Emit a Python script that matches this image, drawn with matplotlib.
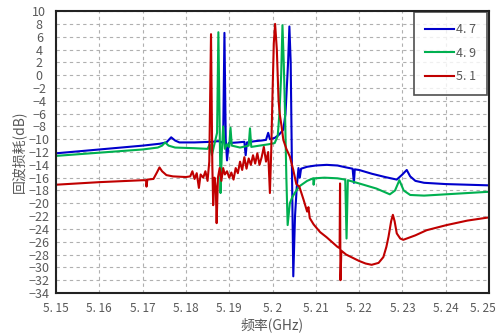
import matplotlib
matplotlib.use("Agg")
import matplotlib.pyplot as plt
import matplotlib.transforms as mtransforms
import numpy as np

plt.rcParams['font.family'] = ['Noto Sans CJK SC', 'DejaVu Sans']

# ===== 数据 (GHz, dB) =====
freq_47 = [5.1500, 5.1600, 5.1700, 5.1740, 5.1755, 5.1766, 5.1775, 5.1785, 5.1820,
           5.1860, 5.1875, 5.1882, 5.1886, 5.1889, 5.1892, 5.1895, 5.1899, 5.1920,
           5.1935, 5.1938, 5.1941, 5.1960, 5.1975, 5.1985, 5.1990, 5.1994, 5.2005,
           5.2015, 5.2025, 5.2030, 5.2036, 5.2039, 5.2042, 5.2045, 5.2048, 5.2052,
           5.2056, 5.2060, 5.2063, 5.2066, 5.2080, 5.2100, 5.2125, 5.2150, 5.2170,
           5.2185, 5.2188, 5.2190, 5.2200, 5.2230, 5.2260, 5.2287, 5.2300, 5.2310,
           5.2318, 5.2330, 5.2350, 5.2400, 5.2450, 5.2500]
rl_47 = [-12.2, -11.6, -11.0, -10.7, -10.5, -9.7, -10.2, -10.5, -10.5,
         -10.4, -10.3, -10.5, -10.3, 6.6, -10.0, -13.3, -10.6, -10.5,
         -10.4, -12.5, -10.5, -10.3, -10.2, -10.1, -9.0, -10.0, -9.8,
         -9.3, -8.5, -6.0, 2.0, 7.6, 2.0, -15.0, -31.4, -22.0,
         -17.5, -14.5, -16.0, -14.6, -14.3, -14.1, -14.0, -14.1, -14.4,
         -14.6, -16.8, -14.7, -14.8, -15.4, -15.9, -16.3, -15.5, -14.8,
         -15.8, -16.5, -16.8, -17.0, -17.1, -17.2]

freq_49 = [5.1500, 5.1600, 5.1700, 5.1735, 5.1745, 5.1752, 5.1760, 5.1775, 5.1820,
           5.1850, 5.1855, 5.1860, 5.1865, 5.1872, 5.1875, 5.1878, 5.1880, 5.1883,
           5.1886, 5.1890, 5.1895, 5.1900, 5.1903, 5.1906, 5.1925, 5.1945, 5.1948,
           5.1951, 5.1970, 5.1990, 5.2005, 5.2012, 5.2016, 5.2020, 5.2023, 5.2026,
           5.2029, 5.2032, 5.2035, 5.2040, 5.2046, 5.2055, 5.2063, 5.2080, 5.2094,
           5.2095, 5.2097, 5.2120, 5.2150, 5.2168, 5.2171, 5.2174, 5.2200, 5.2240,
           5.2271, 5.2283, 5.2293, 5.2303, 5.2318, 5.2350, 5.2400, 5.2450, 5.2500]
rl_49 = [-12.6, -12.1, -11.6, -11.3, -11.0, -10.5, -11.0, -11.3, -11.4,
         -11.5, -10.8, -12.5, -11.0, -9.0, 6.7, -8.0, -18.4, -12.0,
         -8.0, -11.5, -10.8, -11.2, -8.2, -11.0, -11.3, -11.0, -8.3,
         -11.2, -11.0, -10.8, -10.6, -9.5, -6.0, 0.0, 7.8, 2.0,
         -6.0, -16.0, -23.4, -20.0, -19.0, -18.0, -17.3, -16.5, -16.1,
         -17.1, -16.1, -16.0, -16.1, -16.3, -25.5, -16.4, -16.9, -17.7,
         -18.6, -18.0, -16.4, -18.0, -18.7, -18.8, -18.6, -18.4, -18.2]

freq_51 = [5.1500, 5.1600, 5.1700, 5.1708, 5.1709, 5.1711, 5.1725, 5.1733, 5.1739,
           5.1745, 5.1755, 5.1770, 5.1800, 5.1810, 5.1815, 5.1820, 5.1825, 5.1830,
           5.1834, 5.1840, 5.1845, 5.1850, 5.1854, 5.1858, 5.1861, 5.1863, 5.1866,
           5.1869, 5.1871, 5.1874, 5.1878, 5.1882, 5.1886, 5.1890, 5.1895, 5.1900,
           5.1905, 5.1910, 5.1915, 5.1920, 5.1925, 5.1930, 5.1935, 5.1940, 5.1945,
           5.1950, 5.1955, 5.1960, 5.1965, 5.1970, 5.1975, 5.1980, 5.1985, 5.1990,
           5.1994, 5.1997, 5.2000, 5.2003, 5.2006, 5.2010, 5.2014, 5.2017, 5.2021,
           5.2025, 5.2032, 5.2040, 5.2048, 5.2055, 5.2062, 5.2072, 5.2080, 5.2083,
           5.2086, 5.2095, 5.2110, 5.2125, 5.2140, 5.2150, 5.2155, 5.2156, 5.2157,
           5.2159, 5.2170, 5.2185, 5.2200, 5.2215, 5.2229, 5.2245, 5.2256, 5.2263,
           5.2268, 5.2274, 5.2278, 5.2282, 5.2287, 5.2295, 5.2302, 5.2330, 5.2356,
           5.2402, 5.2450, 5.2500]
rl_51 = [-17.1, -16.7, -16.4, -16.4, -17.4, -16.3, -16.2, -15.2, -14.4,
         -15.0, -15.6, -15.8, -15.9, -15.8, -15.0, -16.2, -15.3, -17.6,
         -15.5, -16.0, -15.0, -16.5, -13.5, 6.4, -14.0, -20.3, -16.0,
         -17.5, -23.1, -16.0, -14.5, -16.5, -14.5, -15.5, -15.0, -16.0,
         -15.2, -16.3, -14.5, -15.3, -13.5, -14.8, -12.8, -14.6, -13.0,
         -14.0, -12.5, -13.8, -12.2, -14.0, -12.8, -11.2, -13.5, -12.0,
         -18.4, -12.0, -3.0, 5.0, 8.0, 4.0, -4.0, -6.2, -8.0,
         -10.1, -11.5, -12.7, -14.8, -17.0, -17.4, -19.5, -21.3, -20.6,
         -22.3, -23.3, -24.5, -25.3, -26.2, -26.8, -27.0, -16.9, -32.0,
         -27.4, -28.0, -28.5, -29.0, -29.4, -29.6, -29.3, -28.4, -26.8,
         -25.2, -22.8, -21.8, -22.8, -24.7, -25.5, -25.7, -25.0, -24.2,
         -23.4, -22.7, -22.2]

series = [
    ("4. 7", freq_47, rl_47, "#0000cc"),
    ("4. 9", freq_49, rl_49, "#00b050"),
    ("5. 1", freq_51, rl_51, "#c00000"),
]

x_ticks = [5.15, 5.16, 5.17, 5.18, 5.19, 5.20, 5.21, 5.22, 5.23, 5.24, 5.25]
x_tick_labels = ["5. 15", "5. 16", "5. 17", "5. 18", "5. 19", "5. 2",
                 "5. 21", "5. 22", "5. 23", "5. 24", "5. 25"]
y_ticks = list(range(-34, 11, 2))

text_color = "#595959"
narrow = ['Liberation Sans Narrow', 'Noto Sans CJK SC', 'DejaVu Sans']

# ===== 描画 =====
fig = plt.figure(figsize=(5, 3.36), dpi=100)
ax = fig.add_axes([0.112, 0.128, 0.866, 0.839])

for label, f, r, c in series:
    ax.plot(f, r, color=c, linewidth=1.5, label=label)

ax.set_xlim(5.15, 5.25)
ax.set_ylim(-34, 10)
ax.set_xticks(x_ticks)
ax.set_xticklabels(x_tick_labels, family=narrow, fontsize=8.5)
ax.set_yticks(y_ticks)
ax.set_yticklabels([str(v).replace("-", "\u2212") for v in y_ticks], ha="center")

ax.tick_params(axis="both", length=0, labelcolor=text_color)
ax.tick_params(axis="y", pad=12, labelsize=9)
ax.tick_params(axis="x", pad=6.5)

# 最右侧刻度标签贴近图边，右对齐避免被裁切
last = ax.get_xticklabels()[-1]
last.set_horizontalalignment("right")
last.set_transform(last.get_transform() +
                   mtransforms.ScaledTranslation(7 / 100, 0, fig.dpi_scale_trans))

ax.grid(True, color="#b0b0b0", linestyle=(0, (3, 3)), linewidth=0.8)
ax.set_axisbelow(True)

for s in ax.spines.values():
    s.set_color("#222222")
    s.set_linewidth(1.5)

ax.set_xlabel("频率(GHz)", fontsize=10, color=text_color, labelpad=2)
ax.set_ylabel("回波损耗(dB)", fontsize=10, color=text_color, labelpad=2)

leg = ax.legend(loc="upper right", bbox_to_anchor=(0.996, 0.997),
                fontsize=9, frameon=True, fancybox=False,
                handlelength=2.3, handletextpad=0.15, labelspacing=0.85,
                borderpad=0.9, borderaxespad=0.0)
leg.get_frame().set_edgecolor("#222222")
leg.get_frame().set_linewidth(1.2)
for t in leg.get_texts():
    t.set_color(text_color)

fig.savefig("out.png", dpi=100)
